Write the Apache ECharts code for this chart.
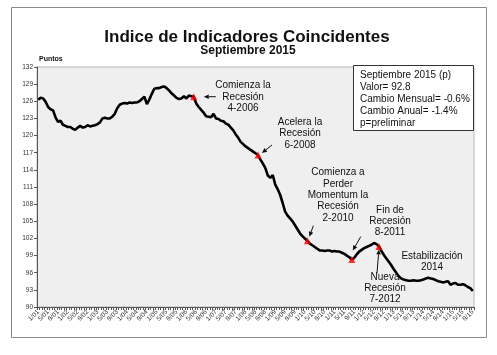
<!DOCTYPE html>
<html><head><meta charset="utf-8">
<script src="https://cdn.jsdelivr.net/npm/echarts@6/dist/echarts.min.js"></script>
<style>html,body{margin:0;padding:0;background:#fff}#c{width:497px;height:355px}</style>
</head><body><div id="c"></div>
<script>
// ---- DATA ----
const startYear = 2001, endYear = 2015, endMonth = 9;
const values = [
  126.3,126.6,126.5,125.9,125.0,124.6,124.4,123.2,122.4,122.6,121.9,121.7,
  121.5,121.5,121.2,121.0,121.4,121.7,121.4,121.5,121.8,121.6,121.7,121.8,
  122.0,122.3,123.0,123.1,123.0,123.0,123.3,123.8,124.8,125.4,125.6,125.7,
  125.6,125.8,125.7,125.8,125.8,126.0,126.4,126.8,125.5,126.3,127.3,128.2,
  128.3,128.3,128.5,128.6,128.3,127.9,127.4,127.0,126.6,126.4,126.5,126.9,
  126.5,127.0,126.9,126.8,125.6,125.0,124.5,124.0,123.4,123.3,123.2,123.8,
  123.0,122.9,122.6,122.5,122.1,121.9,121.4,120.9,120.2,119.6,118.9,118.5,
  118.1,117.8,117.5,117.2,116.9,116.6,115.8,115.1,114.3,113.0,112.6,113.1,
  111.4,110.6,109.6,108.2,106.7,106.0,105.5,105.0,104.3,103.6,102.9,102.4,
  102.0,101.6,101.1,100.8,100.5,100.2,99.9,99.9,99.8,99.9,99.9,99.7,
  99.8,99.7,99.7,99.5,99.3,99.0,98.7,98.3,98.6,99.2,99.7,100.0,
  100.3,100.5,100.7,100.9,101.2,101.0,100.6,99.8,99.1,98.5,97.9,97.3,
  96.6,96.0,95.4,95.0,94.8,94.7,94.6,94.6,94.7,94.6,94.6,94.7,
  94.8,95.0,95.1,95.0,94.9,94.7,94.5,94.4,94.3,94.4,94.5,93.9,
  94.1,94.2,93.9,93.9,94.0,93.8,93.5,93.3,92.8
];
const yMin = 90, yMax = 132, yStep = 3;
const markerMonths = ['4/06','6/08','2/10','8/11','7/12'];
const infoLines = ['Septiembre 2015 (p)','Valor= 92.8','Cambio Mensual= -0.6%','Cambio Anual= -1.4%','p=preliminar'];
const titleText = 'Indice de Indicadores Coincidentes';
const subTitleText = 'Septiembre 2015';
const unitText = 'Puntos';

// category labels M/YY
const categories = [];
for (let y = startYear; y <= endYear; y++) {
  for (let m = 1; m <= 12; m++) {
    if (y === endYear && m > endMonth) break;
    categories.push(m + '/' + String(y % 100).padStart(2, '0'));
  }
}
const markerIdx = markerMonths.map(m => categories.indexOf(m));

// annotation texts (layout in px), arrows relative to markers
const notes = [
  {text:'Comienza la\nRecesión\n4-2006', x:243, y:80, lh:11.2},
  {text:'Acelera la\nRecesión\n6-2008', x:300, y:116, lh:11.5},
  {text:'Comienza a\nPerder\nMomentum la\nRecesión\n2-2010', x:338, y:167, lh:11.3},
  {text:'Fin de\nRecesión\n8-2011', x:390, y:205, lh:10.8},
  {text:'Nueva\nRecesión\n7-2012', x:385, y:272, lh:11},
  {text:'Estabilización\n2014', x:432, y:251, lh:11}
];
const arrows = [
  {m:0, tip:[10,0], vec:[12,0]},
  {m:1, tip:[4,-2], vec:[10,-8]},
  {m:2, tip:[2,-4], vec:[4,-11]},
  {m:3, tip:[1,-9], vec:[8,-14]},
  {m:4, tip:[0,3], vec:[-2,24]}
];

const FONT = "'Liberation Sans', Arial, sans-serif";
const chart = echarts.init(document.getElementById('c'), null, {renderer:'canvas'});

const baseGraphic = [
  {type:'rect', shape:{x:11.5,y:7.5,width:475,height:330}, style:{fill:'none', stroke:'#8a8a8a', lineWidth:1}, z:1},
  {type:'text', x:247, y:37, style:{text:titleText, font:'bold 17px '+FONT, fill:'#111', textAlign:'center', textVerticalAlign:'middle'}},
  {type:'text', x:248, y:50.5, style:{text:subTitleText, font:'bold 12px '+FONT, fill:'#111', textAlign:'center', textVerticalAlign:'middle'}},
  {type:'text', x:39, y:59, style:{text:unitText, font:'bold 7px '+FONT, fill:'#111', textAlign:'left', textVerticalAlign:'middle'}},
  {type:'rect', shape:{x:353.5,y:65.5,width:120,height:65}, style:{fill:'#fff', stroke:'#333', lineWidth:1}, z:10},
];
infoLines.forEach((t, i) => {
  baseGraphic.push({type:'text', x:360, y:75 + i*12, z:11,
    style:{text:t, font:'10px '+FONT, fill:'#111', textAlign:'left', textVerticalAlign:'middle'}});
});
notes.forEach(n => {
  baseGraphic.push({type:'text', x:n.x, y:n.y, z:11,
    style:{text:n.text, font:'10px '+FONT, fill:'#111', textAlign:'center', textVerticalAlign:'top', lineHeight:n.lh}});
});

const option = {
  animation:false,
  backgroundColor:'#fff',
  grid:{left:37, top:67, right:23, bottom:48, show:true, backgroundColor:'#efefef', borderColor:'#b8b8b8', borderWidth:1},
  xAxis:{
    type:'category', data:categories, boundaryGap:true,
    axisLine:{lineStyle:{color:'#555', width:1}},
    axisTick:{show:true, interval:0, length:3, lineStyle:{color:'#555'}},
    axisLabel:{interval:3, rotate:45, fontSize:6.5, fontFamily:FONT, color:'#333', margin:4}
  },
  yAxis:{
    type:'value', min:yMin, max:yMax, interval:yStep,
    axisLine:{show:true, lineStyle:{color:'#555', width:1}},
    axisTick:{show:true, length:3, lineStyle:{color:'#555'}},
    axisLabel:{fontSize:6.5, fontFamily:FONT, color:'#333', margin:4},
    splitLine:{show:false}
  },
  series:[
    {type:'line', data:values, symbol:'none', lineStyle:{color:'#000', width:2.6}, z:3},
    {type:'scatter', data:markerIdx.map(i => [i, values[i]]), symbol:'triangle', symbolSize:7,
     itemStyle:{color:'#ff0000'}, z:4}
  ],
  graphic: baseGraphic
};
chart.setOption(option);

// arrows anchored to marker points
const arrowGraphic = baseGraphic.slice();
arrows.forEach(a => {
  const idx = markerIdx[a.m];
  const p = chart.convertToPixel({seriesIndex:0}, [idx, values[idx]]);
  const tip = [p[0] + a.tip[0], p[1] + a.tip[1]];
  const tail = [tip[0] + a.vec[0], tip[1] + a.vec[1]];
  const dx = tip[0]-tail[0], dy = tip[1]-tail[1];
  const L = Math.sqrt(dx*dx+dy*dy), ux = dx/L, uy = dy/L;
  const hl = 5, hw = 2.3;
  const base = [tip[0]-ux*hl, tip[1]-uy*hl];
  arrowGraphic.push({type:'line', z:12, shape:{x1:tail[0], y1:tail[1], x2:base[0], y2:base[1]}, style:{stroke:'#111', lineWidth:1}});
  arrowGraphic.push({type:'polygon', z:12, shape:{points:[tip,[base[0]-uy*hw, base[1]+ux*hw],[base[0]+uy*hw, base[1]-ux*hw]]}, style:{fill:'#111'}});
});
chart.setOption({graphic: arrowGraphic}, {replaceMerge:['graphic']});
</script>
</body></html>
